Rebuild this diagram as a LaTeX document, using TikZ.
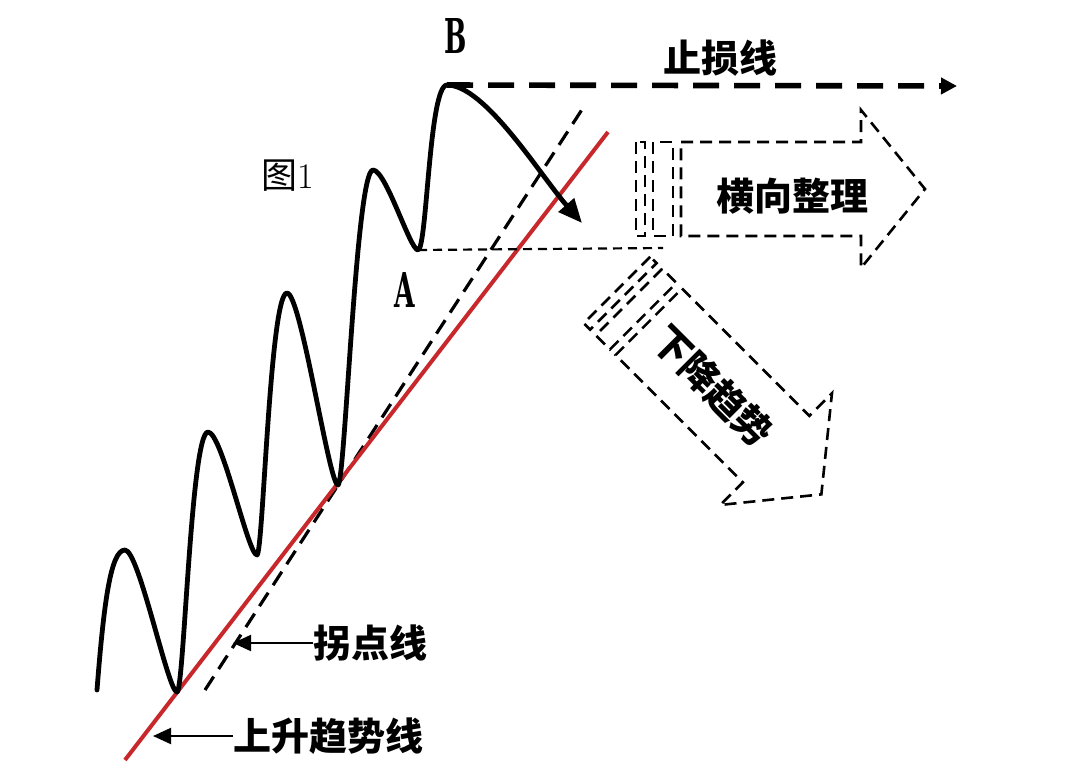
\documentclass[tikz,border=0pt]{standalone}
\usepackage{fontspec}
\newfontfamily\cjk{Noto Sans CJK SC}
\newfontfamily\ptfont{DejaVu Serif}
\usetikzlibrary{arrows.meta}
\definecolor{TrendRed}{HTML}{C8282B}
\tikzset{
  wave/.style={line width=2.4pt, black, line cap=round, line join=round},
  trendline/.style={line width=2pt, TrendRed},
  kinkline/.style={line width=1.6pt, dash pattern=on 8pt off 4.5pt},
  stopline/.style={line width=2.8pt, dash pattern=on 13pt off 7.5pt, -{Triangle[length=8pt,width=8pt]}},
  guideline/.style={line width=1.1pt, dash pattern=on 4.5pt off 3pt},
  outlinedash/.style={line width=1.3pt, dash pattern=on 6pt off 3.5pt, line join=miter},
  leader/.style={line width=1pt, -{Triangle[length=9pt,width=8pt]}},
  cjklabel/.style={font=\cjk\bfseries\fontsize{19pt}{22pt}\selectfont, inner sep=0pt},
  ptlabel/.style={font=\ptfont\bfseries\fontsize{24pt}{28pt}\selectfont, inner sep=0pt},
  flowarrow/.pic={
    \draw[outlinedash] (0,-47) rectangle (9,47);
    \draw[outlinedash] (17,-47) rectangle (37,47);
    \draw[outlinedash] (45,-47) -- (225,-47) -- (225,-79) -- (289,0) -- (225,79) -- (225,47) -- (45,47) -- cycle;
  }
}

\begin{document}
\begin{tikzpicture}[x=0.5pt, y=-0.5pt]
  \useasboundingbox (0,0) rectangle (1082,772);

  % trend lines
  \coordinate (trendlow) at (125,760);
  \coordinate (trendhigh) at (608,132);
  \coordinate (kinklow) at (205,690);
  \coordinate (kinkhigh) at (583,108);
  \draw[kinkline] (kinklow) -- (kinkhigh);
  \draw[trendline] (trendlow) -- (trendhigh);

  % price wave
  \coordinate (lowA) at (418,250);
  \coordinate (peakB) at (447,85);
  \draw[wave, -{Triangle[length=12pt,width=10pt]}] (97,690)
    .. controls (104,600) and (111,550) .. (125,550)
    .. controls (139,550) and (168,692) .. (177,692)
    .. controls (184,692) and (191,432) .. (208,432)
    .. controls (222,432) and (248,555) .. (257,555)
    .. controls (263,555) and (270,293) .. (287,293)
    .. controls (301,293) and (329,485) .. (338,485)
    .. controls (345,485) and (356,170) .. (373,170)
    .. controls (386,170) and (410,250) .. (lowA)
    .. controls (427,250) and (429,85) .. (peakB)
    .. controls (485,85) and (540,175) .. (582,223);

  % stop line and support from A
  \coordinate (stopend) at (957,86);
  \coordinate (guideend) at (663,248);
  \draw[stopline] (peakB) -- (stopend);
  \draw[guideline] (lowA) -- (guideend);

  % outcome arrows
  \pic (flat) at (636,189) {flowarrow};
  \pic[rotate=-45] (fall) at (617,290) {flowarrow};
  \node[cjklabel] (flatlbl) at (792,196) {横向整理};
  \node[cjklabel, rotate=-45] (falllbl) at (713,386) {下降趋势};

  % labels
  \node[ptlabel] (blbl) at (456,36) {\scalebox{0.55}[1]{B}};
  \node[ptlabel] (albl) at (405,290) {\scalebox{0.55}[1]{A}};
  \node[font=\cjk\fontsize{18pt}{20pt}\selectfont, inner sep=0pt] (figlbl) at (288,176) {图\rmfamily 1};
  \node[cjklabel] (stoplbl) at (720,58) {止损线};

  \coordinate (kinkpt) at (233,643);
  \coordinate (trendpt) at (153,736);
  \node[cjklabel, anchor=west] (kinklbl) at (313,643) {拐点线};
  \node[cjklabel, anchor=west] (trendlbl) at (233,736) {上升趋势线};
  \draw[leader] (kinklbl.west) -- (kinkpt);
  \draw[leader] (trendlbl.west) -- (trendpt);
\end{tikzpicture}
\end{document}
